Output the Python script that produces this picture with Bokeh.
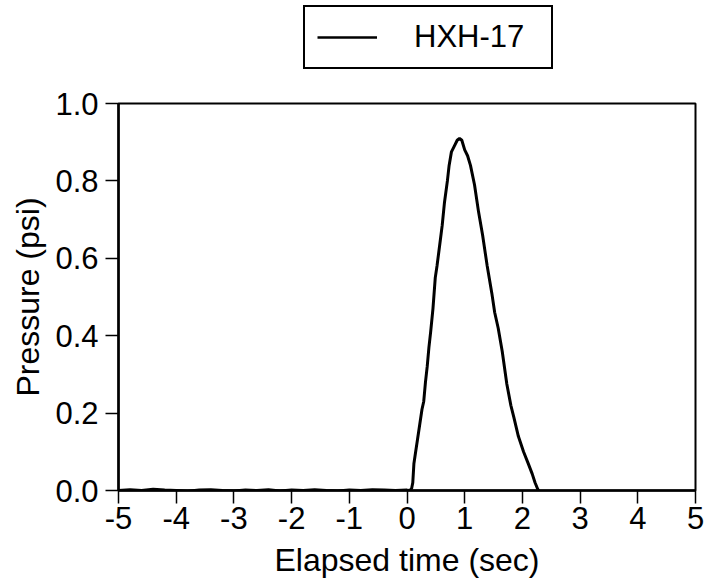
from bokeh.plotting import figure
from bokeh.models import FixedTicker, Legend, LegendItem, Range1d
from bokeh.layouts import column
from bokeh.embed import file_html
from bokeh.resources import INLINE

# ---- data ----
time_sec = [-5.0, -4.8, -4.6, -4.4, -4.2, -4.0, -3.8, -3.6, -3.4, -3.2, -3.0,
            -2.8, -2.6, -2.4, -2.2, -2.0, -1.8, -1.6, -1.4, -1.2, -1.0,
            -0.8, -0.6, -0.4, -0.2, 0.0, 0.05,
            0.08, 0.10, 0.12, 0.15, 0.18, 0.22, 0.26, 0.29, 0.32, 0.35, 0.38,
            0.41, 0.45, 0.49, 0.52, 0.55, 0.58, 0.61, 0.65, 0.70, 0.73, 0.77,
            0.82, 0.87, 0.91, 0.95, 1.00, 1.05, 1.10, 1.17, 1.24, 1.31, 1.39,
            1.47, 1.52, 1.58, 1.65, 1.73, 1.80, 1.85, 1.93, 2.02, 2.10, 2.17,
            2.22, 2.27, 2.32, 2.40, 2.50, 2.60, 2.70, 2.80, 2.90, 3.00, 3.10,
            3.20, 3.30, 3.40, 3.50, 3.60, 3.80, 4.00, 4.20, 4.40, 4.60, 4.80, 5.00]
pressure_psi = [0.000, 0.002, 0.000, 0.003, 0.001, 0.000, -0.002, 0.001, 0.002, 0.000, -0.001,
                0.001, 0.000, 0.002, -0.001, 0.001, 0.000, 0.002, 0.000, -0.001, 0.001,
                0.000, 0.002, 0.001, 0.000, 0.001, 0.000,
                0.005, 0.020, 0.070, 0.100, 0.130, 0.170, 0.210, 0.230, 0.280, 0.320, 0.370,
                0.410, 0.470, 0.550, 0.580, 0.615, 0.650, 0.685, 0.745, 0.800, 0.840, 0.875,
                0.890, 0.905, 0.910, 0.905, 0.880, 0.865, 0.840, 0.790, 0.720, 0.660, 0.580,
                0.510, 0.460, 0.420, 0.360, 0.275, 0.220, 0.190, 0.140, 0.100, 0.070, 0.043,
                0.020, 0.002, -0.008, -0.010, -0.012, -0.015, -0.014, -0.016, -0.017, -0.018, -0.015,
                -0.014, -0.012, -0.011, -0.010, -0.009, -0.007, -0.006, -0.005, -0.006, -0.004, -0.005, -0.004]
series_name = "HXH-17"

x_ticks = [-5, -4, -3, -2, -1, 0, 1, 2, 3, 4, 5]
x_tick_labels = ["-5", "-4", "-3", "-2", "-1", "0", "1", "2", "3", "4", "5"]
y_ticks = [0.0, 0.2, 0.4, 0.6, 0.8, 1.0]
y_tick_labels = ["0.0", "0.2", "0.4", "0.6", "0.8", "1.0"]

FONT = "Liberation Sans"

# ---- main plot ----
p = figure(width=706, height=506, output_backend="svg", toolbar_location=None,
           x_range=Range1d(-5, 5), y_range=Range1d(0, 1.0),
           min_border_left=118, min_border_right=11, min_border_top=23, min_border_bottom=96)
p.background_fill_color = "white"
p.border_fill_color = "white"
p.outline_line_color = "black"
p.outline_line_width = 2
p.grid.visible = False

p.line(time_sec, pressure_psi, line_color="black", line_width=3)

for ax, ticks, labels in ((p.xaxis[0], x_ticks, x_tick_labels), (p.yaxis[0], y_ticks, y_tick_labels)):
    ax.ticker = FixedTicker(ticks=ticks)
    ax.major_label_overrides = {t: l for t, l in zip(ticks, labels)}
    ax.axis_line_color = "black"
    ax.axis_line_width = 2.5
    ax.major_tick_line_color = "black"
    ax.major_tick_line_width = 1.5
    ax.major_tick_in = 0
    ax.major_tick_out = 13
    ax.minor_tick_line_color = None
    ax.major_label_text_font = FONT
    ax.major_label_text_font_size = "31px"
    ax.major_label_text_color = "black"
    ax.axis_label_text_font = FONT
    ax.axis_label_text_font_size = "32px"
    ax.axis_label_text_font_style = "normal"
    ax.axis_label_text_color = "black"

p.xaxis[0].axis_label = "Elapsed time (sec)"
p.yaxis[0].axis_label = "Pressure (psi)"
p.xaxis[0].major_label_standoff = 3
p.yaxis[0].major_label_standoff = 7
p.xaxis[0].axis_label_standoff = 10
p.yaxis[0].axis_label_standoff = 6

# ---- legend strip above the plot ----
lg = figure(width=706, height=80, output_backend="svg", toolbar_location=None,
            x_range=Range1d(100, 101), y_range=Range1d(100, 101),
            min_border_left=0, min_border_right=0, min_border_top=0, min_border_bottom=0)
lg.axis.visible = False
lg.grid.visible = False
lg.outline_line_color = None
lg.background_fill_color = "white"
lg.border_fill_color = "white"
lr = lg.line(time_sec, pressure_psi, line_color="black", line_width=2.5)

legend = Legend(items=[LegendItem(label=series_name, renderers=[lr])],
                location=(185, 11), orientation="vertical",
                border_line_color="black", border_line_width=2, border_line_alpha=1.0,
                background_fill_color="white", background_fill_alpha=1.0,
                padding=12, margin=0, glyph_width=60, label_standoff=37,
                label_text_font=FONT, label_text_font_size="31px",
                label_text_color="black",
                label_width=125, spacing=0)
lg.add_layout(legend, "center")

layout = column(lg, p, spacing=0)
open("out.html", "w").write(file_html(layout, INLINE))
